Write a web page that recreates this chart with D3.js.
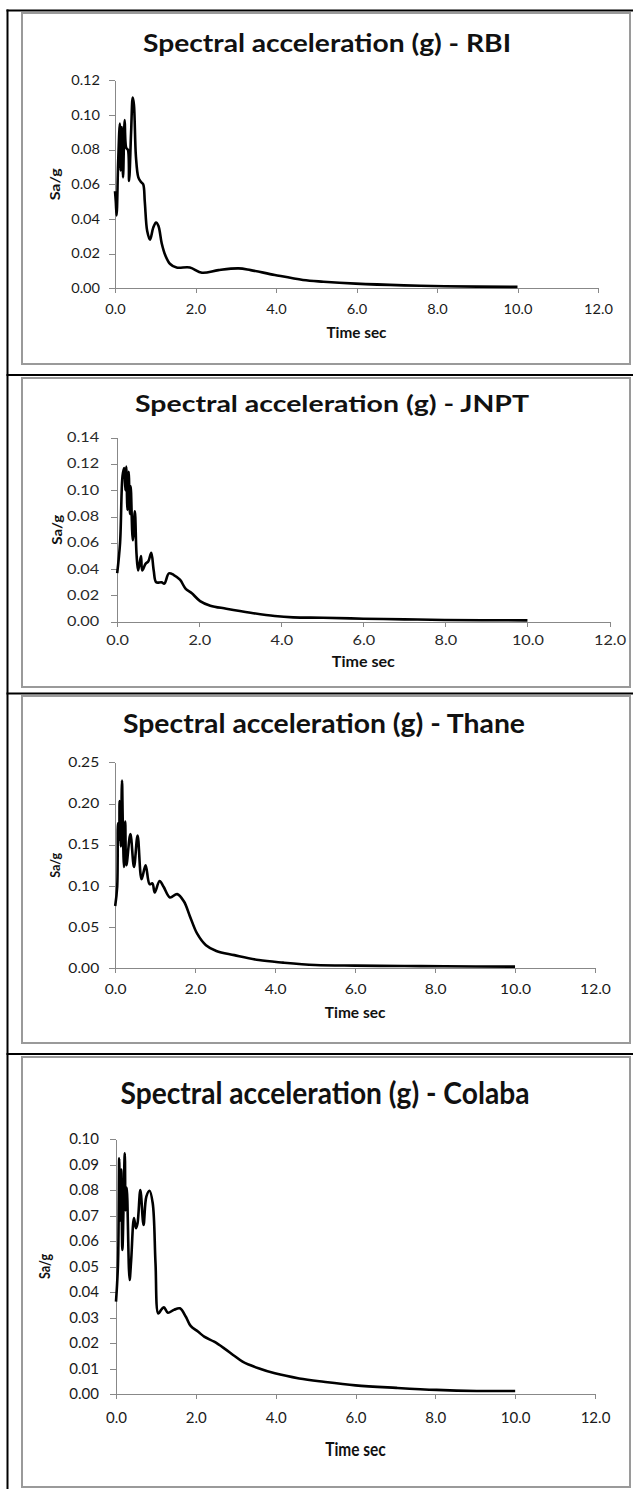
<!DOCTYPE html>
<html lang="en">
<head>
<meta charset="UTF-8">
<title>Spectral acceleration</title>
<style>
  body { margin: 0; background: #fff; }
  svg { display: block; }
  .axis path, .axis line { stroke: #888; shape-rendering: crispEdges; }
  .axis text { font-family: Lato, "Open Sans", sans-serif; }
  .title, .label { font-family: Lato, sans-serif; font-weight: bold; fill: #111; }
</style>
<script src="https://d3js.org/d3.v7.min.js"></script>
</head>
<body>
<script>
// values
const stations = ["RBI", "JNPT", "Thane", "Colaba"];
const xTicks = [0, 2, 4, 6, 8, 10, 12];

const rbiTime = [0, 0.02, 0.04, 0.08, 0.12, 0.14, 0.17, 0.2, 0.24, 0.28, 0.32, 0.35, 0.4, 0.44, 0.47, 0.52, 0.58, 0.64, 0.7, 0.74, 0.8, 0.87, 0.95, 1.02, 1.08, 1.16, 1.25, 1.37, 1.53, 1.86, 2.16, 2.57, 3.07, 3.37, 3.97, 4.67, 5.18, 5.98, 7.18, 8.19, 10.0];
const rbiSa = [0.056, 0.050, 0.042, 0.074, 0.095, 0.068, 0.093, 0.064, 0.097, 0.081, 0.080, 0.062, 0.090, 0.110, 0.106, 0.076, 0.064, 0.0615, 0.060, 0.050, 0.033, 0.028, 0.035, 0.038, 0.036, 0.026, 0.019, 0.014, 0.012, 0.012, 0.009, 0.0105, 0.0115, 0.0105, 0.0077, 0.0048, 0.0038, 0.0027, 0.0017, 0.0012, 0.0008];

const jnptTime = [0, 0.07, 0.13, 0.17, 0.2, 0.22, 0.25, 0.28, 0.31, 0.33, 0.38, 0.43, 0.47, 0.51, 0.58, 0.61, 0.69, 0.76, 0.83, 0.89, 0.95, 1.08, 1.15, 1.26, 1.38, 1.53, 1.67, 1.82, 2.02, 2.27, 2.66, 3.25, 3.84, 4.29, 5.02, 6.0, 7.0, 7.98, 10.0];
const jnptSa = [0.037, 0.060, 0.111, 0.117, 0.100, 0.118, 0.085, 0.114, 0.082, 0.103, 0.062, 0.084, 0.052, 0.039, 0.050, 0.039, 0.044, 0.046, 0.0525, 0.039, 0.030, 0.030, 0.029, 0.0368, 0.0355, 0.032, 0.025, 0.0216, 0.0157, 0.0122, 0.0099, 0.0068, 0.0043, 0.0033, 0.0030, 0.0023, 0.0018, 0.0013, 0.0010];

const thaneTime = [0, 0.05, 0.07, 0.1, 0.11, 0.14, 0.17, 0.19, 0.22, 0.25, 0.28, 0.38, 0.47, 0.56, 0.66, 0.76, 0.86, 0.93, 0.99, 1.11, 1.21, 1.37, 1.55, 1.72, 1.87, 2.05, 2.27, 2.53, 2.98, 3.59, 4.2, 5.0, 6.0, 7.23, 8.24, 10.0];
const thaneSa = [0.0756, 0.099, 0.176, 0.156, 0.203, 0.148, 0.228, 0.176, 0.123, 0.178, 0.125, 0.163, 0.123, 0.161, 0.108, 0.125, 0.102, 0.103, 0.092, 0.106, 0.099, 0.086, 0.090, 0.081, 0.063, 0.042, 0.028, 0.021, 0.016, 0.010, 0.0069, 0.0040, 0.0032, 0.0028, 0.0024, 0.0020];

const colabaTime = [0, 0.05, 0.08, 0.1, 0.13, 0.16, 0.22, 0.24, 0.27, 0.34, 0.38, 0.45, 0.5, 0.54, 0.61, 0.69, 0.76, 0.84, 0.92, 0.99, 1.06, 1.14, 1.2, 1.3, 1.45, 1.6, 1.75, 1.87, 2.06, 2.21, 2.46, 2.71, 2.97, 3.17, 3.57, 3.98, 4.59, 5.2, 6.0, 7.02, 8.03, 9.04, 10.0];
const colabaSa = [0.0362, 0.051, 0.0924, 0.068, 0.088, 0.0565, 0.0944, 0.072, 0.081, 0.0447, 0.0525, 0.069, 0.065, 0.067, 0.080, 0.0663, 0.0774, 0.0797, 0.0748, 0.0512, 0.0316, 0.0332, 0.034, 0.0319, 0.033, 0.0336, 0.0303, 0.0267, 0.0244, 0.0225, 0.0205, 0.0179, 0.0149, 0.0127, 0.0101, 0.0081, 0.0061, 0.0048, 0.0034, 0.0024, 0.0016, 0.0012, 0.0012];

const rbiTicks = [0, 0.02, 0.04, 0.06, 0.08, 0.10, 0.12];
const jnptTicks = [0, 0.02, 0.04, 0.06, 0.08, 0.10, 0.12, 0.14];
const thaneTicks = [0, 0.05, 0.10, 0.15, 0.20, 0.25];
const colabaTicks = [0, 0.01, 0.02, 0.03, 0.04, 0.05, 0.06, 0.07, 0.08, 0.09, 0.10];

const series = [
  { time: rbiTime, sa: rbiSa, ticks: rbiTicks },
  { time: jnptTime, sa: jnptSa, ticks: jnptTicks },
  { time: thaneTime, sa: thaneSa, ticks: thaneTicks },
  { time: colabaTime, sa: colabaSa, ticks: colabaTicks }
];

// page geometry (pixels), one entry per panel
const layout = [
  { box: [13, 364], x0: 115, x1: 598, yTop: 80.3, yBot: 288.3, titleX: 327, titleY: 51.7, titleSize: 24, titleW: 368,
    tickSize: 13.5, tickStretch: 1.08, tickColor: "#1a1a1a", xLab: 11, yLab: 9, timeY: 338, timeSize: 14.5, timeW: 60, saX: 59.5, saSize: 13.5, saW: 32 },
  { box: [378, 687], x0: 117.2, x1: 609.5, yTop: 437.7, yBot: 621.7, titleX: 332, titleY: 411.5, titleSize: 23.5, titleW: 394,
    tickSize: 12.5, tickStretch: 1.3, tickColor: "#2a2a2a", xLab: 9, yLab: 12, timeY: 667, timeSize: 14.5, timeW: 63, saX: 61.5, saSize: 13.5, saW: 30 },
  { box: [696, 1043], x0: 115.2, x1: 595, yTop: 762.3, yBot: 968.3, titleX: 324, titleY: 732.5, titleSize: 26, titleW: 402,
    tickSize: 13, tickStretch: 1.2, tickColor: "#1a1a1a", xLab: 11, yLab: 10, timeY: 1018, timeSize: 14.5, timeW: 60.6, saX: 59.5, saSize: 13.5, saW: 25 },
  { box: [1057, 1487], x0: 116, x1: 595, yTop: 1139, yBot: 1394, titleX: 325, titleY: 1104, titleSize: 29.5, titleW: 409,
    tickSize: 15.5, tickStretch: 0.97, tickColor: "#1a1a1a", xLab: 13, yLab: 11, timeY: 1456, timeSize: 18, timeW: 60.6, saX: 50, saSize: 14.5, saW: 25 }
];

const svg = d3.select("body").append("svg")
  .attr("width", 633)
  .attr("height", 1489);

// table rules around the panels
svg.append("line")
  .attr("x1", 7.5).attr("x2", 7.5).attr("y1", 9.5).attr("y2", 1489)
  .attr("stroke", "#000").attr("stroke-width", 2);
[10.5, 375, 693.5, 1054].forEach(y => {
  svg.append("line")
    .attr("x1", 6.5).attr("x2", 633).attr("y1", y).attr("y2", y)
    .attr("stroke", "#000").attr("stroke-width", 2);
});

function stretch(sel, factor) {
  sel.each(function() {
    const w = this.getComputedTextLength();
    d3.select(this).attr("textLength", w * factor).attr("lengthAdjust", "spacingAndGlyphs");
  });
}

series.forEach((s, i) => {
  const L = layout[i];
  const g = svg.append("g");

  g.append("rect")
    .attr("x", 22).attr("y", L.box[0])
    .attr("width", 608).attr("height", L.box[1] - L.box[0])
    .attr("fill", "#fff").attr("stroke", "#9a9a9a").attr("stroke-width", 2);

  g.append("text")
    .attr("class", "title")
    .attr("x", L.titleX).attr("y", L.titleY)
    .attr("text-anchor", "middle")
    .style("font-size", L.titleSize + "px")
    .attr("textLength", L.titleW).attr("lengthAdjust", "spacingAndGlyphs")
    .text("Spectral acceleration (g) - " + stations[i]);

  const x = d3.scaleLinear().domain([0, 12]).range([L.x0, L.x1]);
  const y = d3.scaleLinear().domain([0, d3.max(s.ticks)]).range([L.yBot, L.yTop]);

  const xAxis = g.append("g")
    .attr("class", "axis")
    .attr("transform", `translate(0,${L.yBot})`)
    .call(d3.axisBottom(x).tickValues(xTicks).tickFormat(d3.format(".1f"))
      .tickSize(5).tickSizeOuter(0).tickPadding(L.xLab));
  xAxis.selectAll("text").style("font-size", L.tickSize + "px").attr("fill", L.tickColor);
  stretch(xAxis.selectAll("text"), L.tickStretch);

  const yAxis = g.append("g")
    .attr("class", "axis")
    .attr("transform", `translate(${L.x0},0)`)
    .call(d3.axisLeft(y).tickValues(s.ticks).tickFormat(d3.format(".2f"))
      .tickSize(6).tickSizeOuter(0).tickPadding(L.yLab));
  yAxis.selectAll("text").style("font-size", L.tickSize + "px").attr("fill", L.tickColor);
  stretch(yAxis.selectAll("text"), L.tickStretch);

  g.append("text")
    .attr("class", "label")
    .attr("x", (L.x0 + L.x1) / 2).attr("y", L.timeY)
    .attr("text-anchor", "middle")
    .style("font-size", L.timeSize + "px")
    .attr("textLength", L.timeW).attr("lengthAdjust", "spacingAndGlyphs")
    .text("Time sec");

  g.append("text")
    .attr("class", "label")
    .attr("transform", `translate(${L.saX},${(L.yTop + L.yBot) / 2}) rotate(-90)`)
    .attr("text-anchor", "middle")
    .style("font-size", L.saSize + "px")
    .attr("textLength", L.saW).attr("lengthAdjust", "spacingAndGlyphs")
    .text("Sa/g");

  const pts = s.time.map((t, k) => [t, s.sa[k]]);
  g.append("path")
    .datum(pts)
    .attr("fill", "none")
    .attr("stroke", "#000")
    .attr("stroke-width", 2.6)
    .attr("stroke-linejoin", "round")
    .attr("d", d3.line().x(d => x(d[0])).y(d => y(d[1])).curve(d3.curveCatmullRom.alpha(0.5)));
});
</script>
</body>
</html>
